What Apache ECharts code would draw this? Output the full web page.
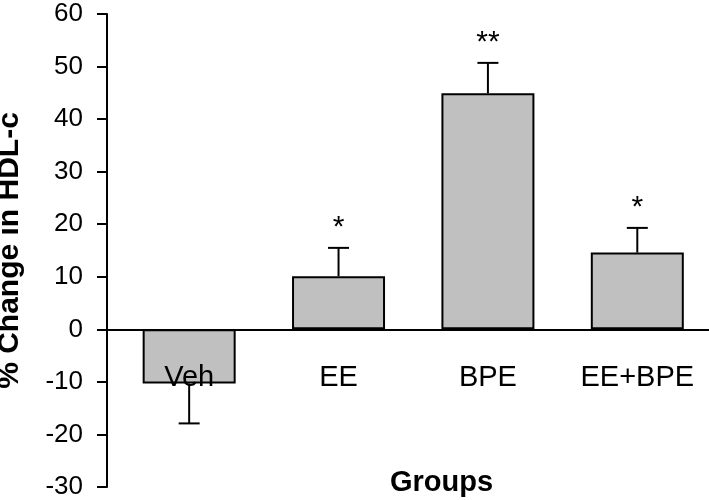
<!DOCTYPE html>
<html>
<head>
<meta charset="utf-8">
<script src="https://cdn.jsdelivr.net/npm/echarts@6/dist/echarts.min.js"></script>
<style>html,body{margin:0;padding:0;background:#fff}#c{width:709px;height:500px}</style>
</head>
<body>
<div id="c"></div>
<script>
const categories = ['Veh', 'EE', 'BPE', 'EE+BPE'];
const means = [-10.3, 10.1, 44.9, 14.6];
const errors = [7.6, 5.4, 5.8, 4.7];
const signif = ['', '*', '**', '*'];
const yTicks = [-30, -20, -10, 0, 10, 20, 30, 40, 50, 60];

const FONT = '"Liberation Sans", Arial, sans-serif';
const chart = echarts.init(document.getElementById('c'), null, {renderer: 'canvas'});

const barData = means.map((v, i) => [i, v]);
const errData = means.map((v, i) => [i, v, v >= 0 ? v + errors[i] : v - errors[i], signif[i]]);

chart.setOption({
  animation: false,
  backgroundColor: '#fff',
  title: {
    text: 'Groups', left: 385, top: 463,
    textStyle: {fontFamily: FONT, fontSize: 29, fontWeight: 'bold', color: '#000'}
  },
  grid: {left: 107, right: 0, top: 14, bottom: 13, containLabel: false, outerBoundsMode: 'none'},
  xAxis: {
    type: 'value', min: -0.55, max: 3.48, z: 10,
    axisLine: {show: true, onZero: true, lineStyle: {color: '#000', width: 2}},
    axisTick: {show: false},
    splitLine: {show: false},
    axisLabel: {
      customValues: categories.map((c, i) => i),
      formatter: v => categories[Math.round(v)] || '',
      margin: -124, fontFamily: FONT, fontSize: 29, color: '#000'
    }
  },
  yAxis: {
    type: 'value', min: yTicks[0], max: yTicks[yTicks.length - 1], interval: 10,
    name: '% Change in HDL-c', nameLocation: 'middle', nameGap: 82,
    nameTextStyle: {fontFamily: FONT, fontSize: 30, fontWeight: 'bold', color: '#000'},
    axisLine: {show: true, onZero: false, lineStyle: {color: '#000', width: 2}},
    axisTick: {show: true, length: 10, inside: false, lineStyle: {color: '#000', width: 2}},
    splitLine: {show: false},
    axisLabel: {margin: 24, fontFamily: FONT, fontSize: 26, color: '#000'}
  },
  series: [
    {
      type: 'bar', data: barData, barWidth: 93,
      itemStyle: {color: '#c0c0c0', borderColor: '#000', borderWidth: 2}
    },
    {
      type: 'custom', data: errData, z: 5,
      renderItem: function (params, api) {
        const x = api.value(0);
        const p0 = api.coord([x, api.value(1)]);
        const p1 = api.coord([x, api.value(2)]);
        const half = 10.5;
        const children = [
          {type: 'line', shape: {x1: p0[0], y1: p0[1], x2: p1[0], y2: p1[1]}, style: {stroke: '#000', lineWidth: 2}},
          {type: 'line', shape: {x1: p1[0] - half, y1: p1[1], x2: p1[0] + half, y2: p1[1]}, style: {stroke: '#000', lineWidth: 2}}
        ];
        const s = api.value(3);
        if (s) {
          children.push({type: 'text', style: {
            text: s, x: p1[0], y: p1[1] - 20, align: 'center', verticalAlign: 'middle',
            font: '30px ' + FONT, fill: '#000'
          }});
        }
        return {type: 'group', children: children};
      }
    }
  ]
});
</script>
</body>
</html>
